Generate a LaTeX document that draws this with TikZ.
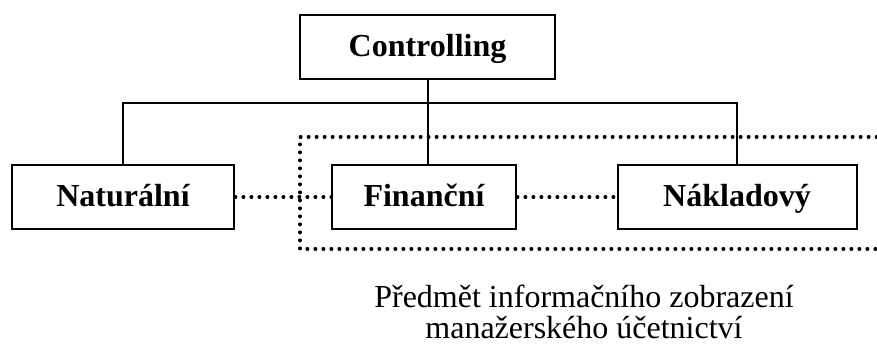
\documentclass[tikz,border=0pt]{standalone}
\usepackage{fontspec}
\setmainfont{Liberation Serif}
\begin{document}
\begin{tikzpicture}[x=0.75pt,y=-0.75pt,
  every node/.style={inner sep=0pt},
  unitbox/.style={draw, line width=1.5pt, minimum height=48pt,
    text height=18pt, text depth=4.5pt,
    font=\fontsize{24}{28}\selectfont\bfseries},
  link/.style={line width=1.5pt},
  dotline/.style={line width=2.3pt, line cap=round, dash pattern=on 0.6pt off 5.4pt}]
\useasboundingbox (0,0) rectangle (877,347);

% boxes
\node[unitbox, minimum width=191.25pt] (ctrl) at (427.5,47) {Controlling};
\node[unitbox, minimum width=166.5pt]  (nat)  at (123,197) {Naturální};
\node[unitbox, minimum width=138pt]    (fin)  at (424,197) {Finanční};
\node[unitbox, minimum width=179.25pt] (nak)  at (737,197) {Nákladový};

% tree connectors
\coordinate (bus) at (427,103);
\draw[link] (ctrl.south) -- (ctrl.south |- fin.north);
\draw[link] (nat.north) |- (nak.north |- bus) -- (nak.north);

% dotted links between the units
\draw[dotline] (nat.east) -- (fin.west);
\draw[dotline] (fin.east) -- (nak.west);

% dotted frame, open to the right
\coordinate (frTR) at (877,137);
\coordinate (frBR) at (877,249);
\draw[dotline] (frTR) -| (300,249) -- (frBR);

% caption
\node[anchor=north, align=center, font=\fontsize{24}{23.25}\selectfont] (cap) at (584,285)
  {Předmět informačního zobrazení\\manažerského účetnictví};
\end{tikzpicture}
\end{document}
